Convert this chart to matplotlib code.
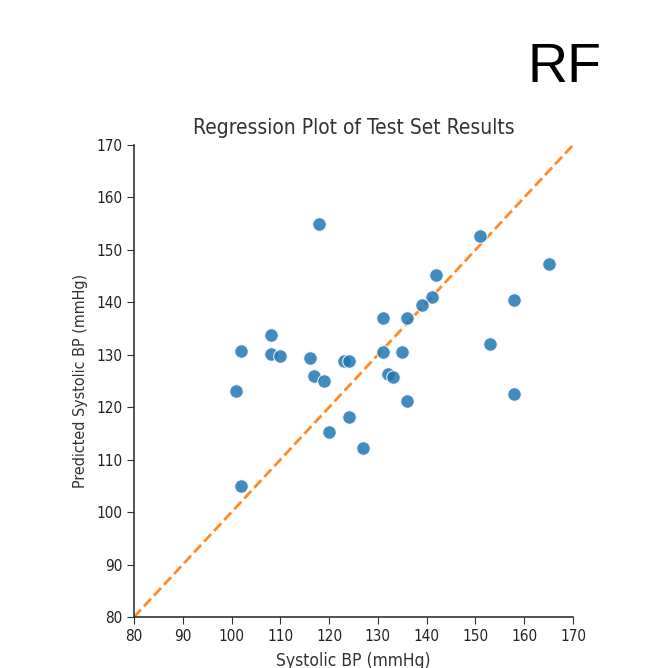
import matplotlib
matplotlib.use("Agg")
import matplotlib.pyplot as plt

# measured (true) vs predicted systolic BP, test set
actual = [118, 108, 102, 108, 110, 116, 123, 124, 117, 119,
          151, 165, 142, 141, 139, 158, 131, 136, 131, 135,
          153, 132, 133, 101, 124, 120, 102, 127, 136, 158]
predicted = [154.9, 133.8, 130.8, 130.2, 129.8, 129.4, 128.8, 128.8, 125.9, 125.0,
             152.6, 147.3, 145.2, 141.1, 139.5, 140.4, 137.1, 137.1, 130.5, 130.5,
             132.1, 126.3, 125.7, 123.1, 118.2, 115.3, 105.0, 112.2, 121.2, 122.5]
ticks = [80, 90, 100, 110, 120, 130, 140, 150, 160, 170]

plt.rcParams['font.family'] = ['DejaVu Sans']
plt.rcParams['font.stretch'] = 'condensed'

fig = plt.figure(figsize=(6.58, 6.68), dpi=100)
ax = fig.add_axes([0.2036, 0.0763, 0.6672, 0.7066])

ax.scatter(actual, predicted, s=95, color='#1f77b4', alpha=0.85,
           edgecolor='white', linewidth=0.8, zorder=3)
ax.plot([80, 170], [80, 170], '--', color='#ff7f0e', lw=2, alpha=0.9, zorder=2)

ax.set_xlim(80, 170)
ax.set_ylim(80, 170)
ax.set_xticks(ticks)
ax.set_yticks(ticks)
ax.tick_params(labelsize=11, length=5, color='#333333', labelcolor='#222222')
for s in ['top', 'right']:
    ax.spines[s].set_visible(False)
for s in ['left', 'bottom']:
    ax.spines[s].set_color('#333333')
    ax.spines[s].set_linewidth(1.2)

ax.set_title('Regression Plot of Test Set Results', fontsize=15, color='#333333', pad=8)
ax.set_xlabel('Systolic BP (mmHg)', fontsize=12.5, color='#333333', labelpad=6)
ax.set_ylabel('Predicted Systolic BP (mmHg)', fontsize=11.5, color='#333333', labelpad=6)

fig.text(601 / 658, 1 - 82 / 668, 'RF', fontsize=40, ha='right', va='baseline',
         family=['Liberation Sans', 'DejaVu Sans'], stretch='normal')

fig.savefig('out.png', dpi=100)
